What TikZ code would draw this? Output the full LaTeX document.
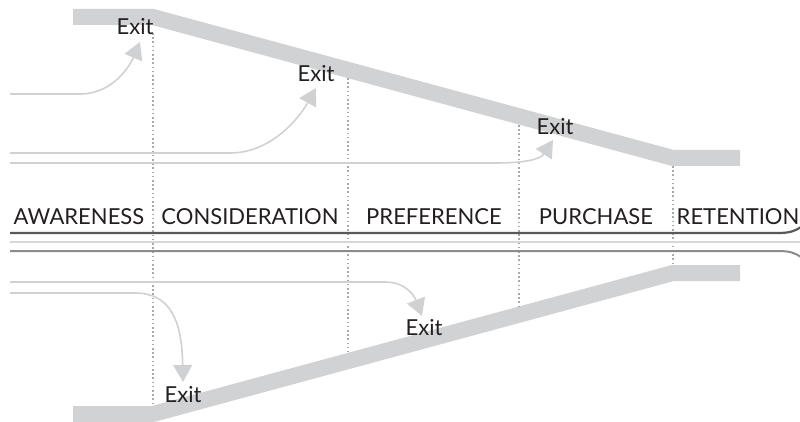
\documentclass[tikz,border=0pt]{standalone}
\usepackage{fontspec}
\setmainfont{Lato}
\usetikzlibrary{arrows.meta}
\definecolor{band}{HTML}{D1D2D4}
\definecolor{arr}{HTML}{D0D1D3}
\definecolor{dotc}{HTML}{A8A9AB}
\definecolor{txt}{HTML}{231F20}
\definecolor{darkl}{HTML}{58595B}
\definecolor{lightl}{HTML}{D6D7D8}
\definecolor{medl}{HTML}{8A8B8D}
\tikzset{
  bandline/.style={draw=band, line width=16pt, line join=miter},
  exitarrow/.style={draw=arr, line width=1.6pt, -{Triangle[length=17pt,width=19pt]}},
  divider/.style={draw=dotc, line width=1.6pt, dash pattern=on 1.6pt off 2.6pt},
  stage/.style={anchor=base, text=txt, font=\fontsize{22}{26}\selectfont, inner sep=0pt},
  exitlbl/.style={anchor=base, text=txt, font=\fontsize{22}{26}\selectfont, inner sep=0pt},
}
\begin{document}
\begin{tikzpicture}[x=1pt,y=-1pt]
\useasboundingbox (0,0) rectangle (800,422);
% funnel bands
\draw[bandline] (73,17) -- (153,17) -- (673,158) -- (740,158);
\draw[bandline] (73,414) -- (153,414) -- (673,273) -- (740,273);
% dotted dividers
\draw[divider] (153,33) -- (153,405);
\draw[divider] (348,78) -- (348,352);
\draw[divider] (519,125) -- (519,306);
\draw[divider] (673,166) -- (673,265);
% timeline lines
\draw[draw=lightl, line width=2pt] (10,242) -- (800,242);
\draw[draw=darkl, line width=2.2pt] (10,233) -- (778,233) .. controls (790,233) and (795,231) .. (801,227);
\draw[draw=medl, line width=2pt] (10,251) -- (778,251) .. controls (790,251) and (795,253) .. (801,257);
% stage labels
\node[stage] (aw) at (79,225) {AWARENESS};
\node[stage] (co) at (250,225) {CONSIDERATION};
\node[stage] (pr) at (434,225) {PREFERENCE};
\node[stage] (pu) at (596,225) {PURCHASE};
\node[stage] (re) at (738,225) {RETENTION};
% exit labels
\node[exitlbl] (e1) at (135,35) {Exit};
\node[exitlbl] (e2) at (316,82) {Exit};
\node[exitlbl] (e3) at (555,135) {Exit};
\node[exitlbl] (e4) at (183,402) {Exit};
\node[exitlbl] (e5) at (424,335) {Exit};
% arrow start and tip coordinates
\coordinate (s1) at (10,94);   \coordinate (t1) at (140,42);
\coordinate (s2) at (10,153);  \coordinate (t2) at (316,88);
\coordinate (s3) at (10,163);  \coordinate (t3) at (553,140);
\coordinate (s4) at (10,293);  \coordinate (t4) at (183,382);
\coordinate (s5) at (10,282);  \coordinate (t5) at (422,316);
% exit arrows
\draw[exitarrow] (s1) -- (80,94) .. controls (110,94) and (128,70) .. (t1);
\draw[exitarrow] (s2) -- (230,153) .. controls (270,153) and (298,120) .. (t2);
\draw[exitarrow] (s3) -- (495,163) .. controls (522,163) and (540,160) .. (t3);
\draw[exitarrow] (s4) -- (135,293) .. controls (170,293) and (182,320) .. (t4);
\draw[exitarrow] (s5) -- (385,282) .. controls (405,282) and (414,295) .. (t5);
\end{tikzpicture}
\end{document}
